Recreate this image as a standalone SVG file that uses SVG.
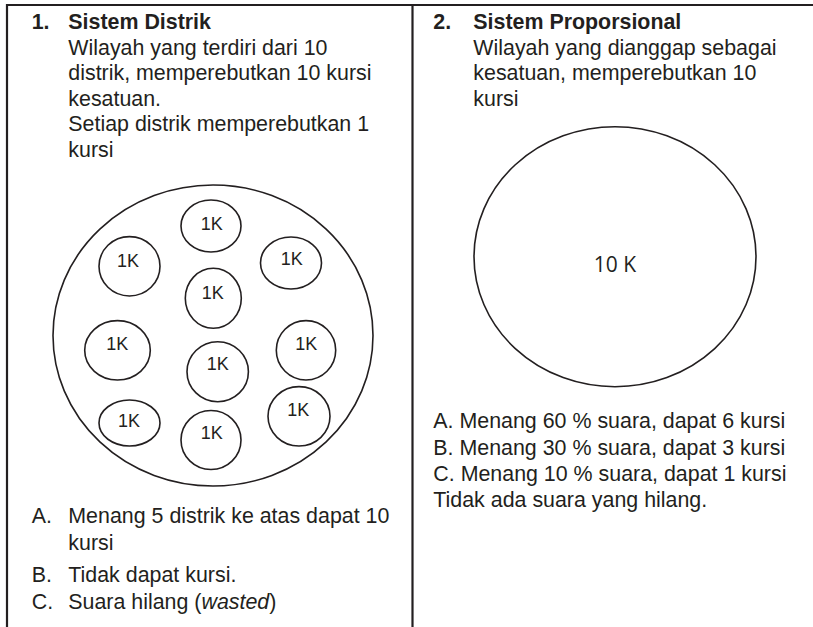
<svg xmlns="http://www.w3.org/2000/svg" width="813" height="627" viewBox="0 0 813 627">
<style>
  .t { font-family: "Liberation Sans", Arial, Helvetica, sans-serif; font-size: 21.4px; fill: #231f20; }
  .b { font-weight: bold; }
  .k { font-family: "Liberation Sans", Arial, Helvetica, sans-serif; font-size: 18px; fill: #231f20; text-anchor: middle; }
  .ten { font-family: "Open Sans", "Liberation Sans", sans-serif; font-size: 21px; fill: #231f20; text-anchor: middle; }
  .c { fill: none; stroke: #231f20; stroke-width: 1.6; }
  .frame { stroke: #231f20; stroke-width: 2.2; fill: none; }
</style>
<rect width="813" height="627" fill="#ffffff"/>
<g id="frame">
  <line class="frame" x1="6" y1="5" x2="813" y2="5"/>
  <line class="frame" x1="7" y1="4" x2="7" y2="627"/>
  <line class="frame" x1="412.5" y1="4" x2="412.5" y2="627"/>
</g>
<g id="connectors"></g>
<g id="distrik-header">
  <text class="t b" x="31.7" y="29">1.</text>
  <text class="t b" x="68.3" y="29">Sistem Distrik</text>
  <text class="t" x="68.3" y="54.5">Wilayah yang terdiri dari 10</text>
  <text class="t" x="68.3" y="80">distrik, memperebutkan 10 kursi</text>
  <text class="t" x="68.3" y="105.5">kesatuan.</text>
  <text class="t" x="68.3" y="131">Setiap distrik memperebutkan 1</text>
  <text class="t" x="68.3" y="156.5">kursi</text>
</g>
<g id="distrik-wilayah">
  <ellipse class="c" cx="213" cy="335.5" rx="160" ry="150.5"/>
</g>
<g id="d1"><ellipse class="c" cx="211" cy="226" rx="30" ry="26"/><text class="k" x="211.7" y="229.5">1K</text></g>
<g id="d2"><ellipse class="c" cx="129.5" cy="266.3" rx="30.5" ry="29.7"/><text class="k" x="128" y="266.5">1K</text></g>
<g id="d3"><ellipse class="c" cx="291" cy="263" rx="30.5" ry="26"/><text class="k" x="291.7" y="264.5">1K</text></g>
<g id="d4"><ellipse class="c" cx="213.3" cy="298.3" rx="28" ry="30"/><text class="k" x="212.7" y="299.2">1K</text></g>
<g id="d5"><ellipse class="c" cx="117.5" cy="350.3" rx="32.8" ry="29.7"/><text class="k" x="117.3" y="349.8">1K</text></g>
<g id="d6"><ellipse class="c" cx="217.7" cy="371.7" rx="30.7" ry="30"/><text class="k" x="217.7" y="369.8">1K</text></g>
<g id="d7"><ellipse class="c" cx="306" cy="350.3" rx="29.7" ry="29.7"/><text class="k" x="306.3" y="349.8">1K</text></g>
<g id="d8"><ellipse class="c" cx="129.5" cy="423" rx="30.5" ry="23"/><text class="k" x="129" y="426.5">1K</text></g>
<g id="d9"><ellipse class="c" cx="211" cy="440" rx="30" ry="29.5"/><text class="k" x="211.7" y="439.2">1K</text></g>
<g id="d10"><ellipse class="c" cx="299" cy="416.3" rx="31" ry="29.7"/><text class="k" x="298.3" y="415.8">1K</text></g>
<g id="distrik-list">
  <text class="t" x="31.7" y="523">A.</text>
  <text class="t" x="68.3" y="523">Menang 5 distrik ke atas dapat 10</text>
  <text class="t" x="68.3" y="550">kursi</text>
  <text class="t" x="31.7" y="582">B.</text>
  <text class="t" x="68.3" y="582">Tidak dapat kursi.</text>
  <text class="t" x="31.7" y="609">C.</text>
  <text class="t" x="68.3" y="609">Suara hilang (<tspan font-style="italic">wasted</tspan>)</text>
</g>
<g id="proporsional-header">
  <text class="t b" x="433.3" y="29">2.</text>
  <text class="t b" x="473.3" y="29">Sistem Proporsional</text>
  <text class="t" x="473.3" y="54.5">Wilayah yang dianggap sebagai</text>
  <text class="t" x="473.3" y="80">kesatuan, memperebutkan 10</text>
  <text class="t" x="473.3" y="105.5">kursi</text>
</g>
<g id="proporsional-wilayah">
  <ellipse class="c" cx="615" cy="256.7" rx="141" ry="130"/>
  <text class="ten" x="615" y="271.5">10 K</text>
</g>
<g id="proporsional-list">
  <text class="t" x="433.3" y="428">A. Menang 60 % suara, dapat 6 kursi</text>
  <text class="t" x="433.3" y="455">B. Menang 30 % suara, dapat 3 kursi</text>
  <text class="t" x="433.3" y="481">C. Menang 10 % suara, dapat 1 kursi</text>
  <text class="t" x="433.3" y="507">Tidak ada suara yang hilang.</text>
</g>
</svg>
